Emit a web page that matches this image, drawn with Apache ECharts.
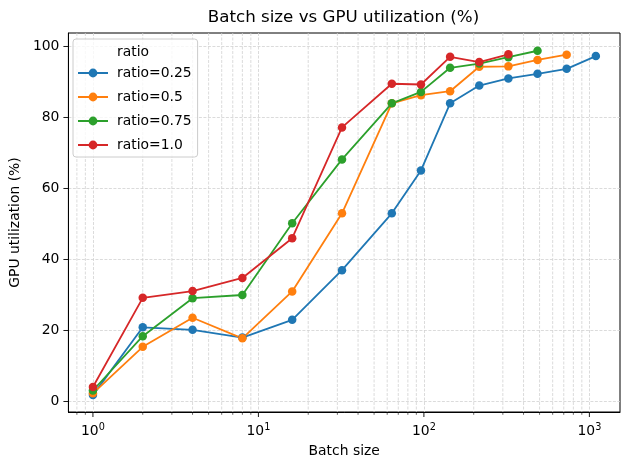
<!DOCTYPE html>
<html><head><meta charset="utf-8">
<script src="https://cdn.jsdelivr.net/npm/echarts@6/dist/echarts.min.js"></script>
<style>html,body{margin:0;padding:0;background:#fff}#c{width:630px;height:470px}</style>
</head><body><div id="c"></div>
<script>
const batchSizes = [1, 2, 4, 8, 16, 32, 64, 96, 144, 216, 324, 486, 729, 1094];
const ratio025 = [1.8, 20.9, 20.2, 18.0, 23.0, 37.0, 53.0, 65.1, 84.0, 89.0, 91.0, 92.3, 93.7, 97.3];
const ratio05  = [2.3, 15.4, 23.6, 17.8, 31.0, 53.0, 84.0, 86.3, 87.4, 94.3, 94.4, 96.2, 97.7];
const ratio075 = [3.1, 18.4, 29.1, 30.0, 50.2, 68.2, 84.0, 87.2, 94.0, 95.2, 97.0, 98.8];
const ratio10  = [4.1, 29.2, 31.1, 34.8, 46.0, 77.2, 89.5, 89.3, 97.1, 95.6, 97.8];
const seriesNames = ['ratio=0.25', 'ratio=0.5', 'ratio=0.75', 'ratio=1.0'];
const yTicks = [0, 20, 40, 60, 80, 100];
const xMajorTicks = [1, 10, 100, 1000];
const minorTicks = [0.8, 0.9, 2, 3, 4, 5, 6, 7, 8, 9, 20, 30, 40, 50, 60, 70, 80, 90, 200, 300, 400, 500, 600, 700, 800, 900];

const X_MIN = 0.711, X_MAX = 1531, Y_MIN = -2.96, Y_MAX = 103.8;
const colors = ['#1f77b4', '#ff7f0e', '#2ca02c', '#d62728'];
const FONT = 'DejaVu Sans';
const allVals = [ratio025, ratio05, ratio075, ratio10];
const gridColor = '#d2d2d2';

function pairs(vals) { return vals.map((v, i) => [batchSizes[i], v]); }

const chart = echarts.init(document.getElementById('c'), null, {renderer: 'canvas'});
const lineSeries = allVals.map((vals, i) => ({
  name: seriesNames[i], type: 'line', data: pairs(vals),
  symbol: 'circle', symbolSize: 8.5, z: 3,
  lineStyle: {width: 1.8, color: colors[i]},
  itemStyle: {color: colors[i]},
  emphasis: {disabled: true}
}));

const tickSeries = [
  {
    type: 'custom', name: 'minorX', silent: true, z: 1, clip: false,
    data: minorTicks.map(v => [v, 0]),
    renderItem: function (params, api) {
      const x = api.value(0);
      const pb = api.coord([x, Y_MIN]);
      const pt = api.coord([x, Y_MAX]);
      return {type: 'group', children: [
        {type: 'line', shape: {x1: pb[0], y1: pt[1], x2: pb[0], y2: pb[1]}, style: {stroke: gridColor, lineWidth: 0.8, lineDash: [3, 1.5]}},
        {type: 'line', shape: {x1: pb[0], y1: pb[1], x2: pb[0], y2: pb[1] + 2.8}, style: {stroke: '#000', lineWidth: 0.6}}
      ]};
    }
  },
  {
    type: 'custom', name: 'majorX', silent: true, z: 1, clip: false,
    data: xMajorTicks.map(v => [v, 0]),
    renderItem: function (params, api) {
      const pb = api.coord([api.value(0), Y_MIN]);
      return {type: 'line', shape: {x1: pb[0], y1: pb[1], x2: pb[0], y2: pb[1] + 5}, style: {stroke: '#000', lineWidth: 0.9}};
    }
  },
  {
    type: 'custom', name: 'majorY', silent: true, z: 1, clip: false,
    data: yTicks.map(v => [X_MIN, v]),
    renderItem: function (params, api) {
      const p = api.coord([X_MIN, api.value(1)]);
      return {type: 'line', shape: {x1: p[0] - 5, y1: p[1], x2: p[0], y2: p[1]}, style: {stroke: '#000', lineWidth: 0.9}};
    }
  }
];

chart.setOption({
  animation: false,
  textStyle: {fontFamily: FONT},
  grid: {left: 67, right: 10, top: 33, bottom: 58, show: true, borderColor: '#000', borderWidth: 1, backgroundColor: 'transparent'},
  graphic: [
    {type: 'text', x: 343.5, y: 9, z: 10, style: {text: 'Batch size vs GPU utilization (%)', font: '16.7px "DejaVu Sans"', fill: '#000', textAlign: 'center', textVerticalAlign: 'top'}},
    {type: 'text', x: 133, y: 45, z: 100, style: {text: 'ratio', font: '13.9px "DejaVu Sans"', fill: '#000', textAlign: 'center', textVerticalAlign: 'top'}}
  ],
  legend: {
    data: seriesNames, orient: 'vertical', left: 73, top: 39,
    padding: [27, 6, 5, 4], itemWidth: 30, itemHeight: 11, itemGap: 10,
    backgroundColor: 'rgba(255,255,255,0.8)', borderColor: '#cccccc', borderWidth: 1, borderRadius: 3,
    textStyle: {fontFamily: FONT, fontSize: 13.9, color: '#000', padding: [0, 0, 0, 4]},
    z: 50
  },
  xAxis: {
    type: 'log', logBase: 10, min: X_MIN, max: X_MAX,
    name: 'Batch size', nameLocation: 'middle', nameGap: 32,
    nameTextStyle: {fontFamily: FONT, fontSize: 13.9, color: '#000'},
    axisLine: {show: true, onZero: false, lineStyle: {color: '#000', width: 1}},
    axisTick: {show: false},
    axisLabel: {
      margin: 10, color: '#000', fontFamily: FONT, fontSize: 13.9,
      showMinLabel: true, showMaxLabel: true,
      formatter: function (v) {
        const l = Math.log10(v), r = Math.round(l);
        if (Math.abs(l - r) > 1e-6) return '';
        return '{b|10}{s|' + r + '}';
      },
      rich: {b: {fontFamily: FONT, fontSize: 13.9, color: '#000'}, s: {fontFamily: FONT, fontSize: 9.7, color: '#000', padding: [0, 0, 9, 0]}}
    },
    splitLine: {show: true, showMinLine: false, showMaxLine: false, lineStyle: {color: gridColor, width: 0.8, type: [3, 1.5]}}
  },
  yAxis: {
    type: 'value', min: Y_MIN, max: Y_MAX,
    name: 'GPU utilization (%)', nameLocation: 'middle', nameGap: 43,
    nameTextStyle: {fontFamily: FONT, fontSize: 13.9, color: '#000'},
    axisLine: {show: true, onZero: false, lineStyle: {color: '#000', width: 1}},
    axisTick: {show: false},
    axisLabel: {
      margin: 9, color: '#000', fontFamily: FONT, fontSize: 13.9,
      formatter: function (v) { return yTicks.indexOf(Math.round(v * 1000) / 1000) >= 0 ? String(v) : ''; }
    },
    splitLine: {show: true, showMinLine: false, showMaxLine: false, lineStyle: {color: gridColor, width: 0.8, type: [3, 1.5]}}
  },
  series: tickSeries.concat(lineSeries)
});
</script></body></html>
